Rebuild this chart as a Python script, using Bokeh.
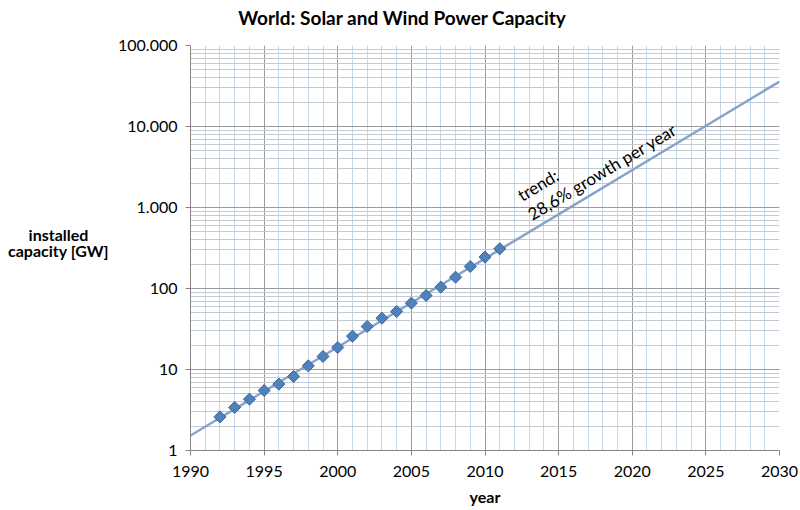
import math
from bokeh.plotting import figure
from bokeh.layouts import row, column
from bokeh.models import Range1d, FixedTicker, Label
from bokeh.core.properties import value
from bokeh.embed import file_html
from bokeh.resources import INLINE

# ---- data ----
years = list(range(1992, 2012))
capacity = [2.6, 3.4, 4.3, 5.5, 6.6, 8.2, 11.1, 14.5, 18.7, 25.8,
            34, 43, 52, 66, 82, 104, 138, 187, 244, 309]
trend_years = [1990, 2030]
trend_values = [1.53, 35900]

x_ticks = [1990, 1995, 2000, 2005, 2010, 2015, 2020, 2025, 2030]
x_minor = list(range(1990, 2031))
y_ticks = [1, 10, 100, 1000, 10000, 100000]
y_tick_labels = ["1", "10", "100", "1.000", "10.000", "100.000"]
y_minor = [m * 10 ** d for d in range(0, 5) for m in range(1, 10)]

title_text = "World: Solar and Wind Power Capacity"
x_label = "year"
y_label_lines = ["installed", "capacity [GW]"]
trend_lines = ["trend:", "28,6% growth per year"]

FONT = "Lato"
LEFT_W = 110
HEAD_H = 35
BODY_H = 510 - HEAD_H


def text_strip(w, h):
    f = figure(width=w, height=h, output_backend="svg", toolbar_location=None,
               x_range=Range1d(0, w), y_range=Range1d(h, 0),
               x_axis_location=None, y_axis_location=None,
               min_border=0, title=None)
    f.grid.visible = False
    f.outline_line_color = None
    return f


# ---- header strip holding the chart title ----
head = text_strip(800, HEAD_H)
head.text(x=[402], y=[17], text=[title_text], text_font=value(FONT),
          text_font_style="bold", text_font_size="19px", text_align="center",
          text_baseline="middle", text_color="#000000")

# ---- left strip holding the horizontal y-axis title ----
side = text_strip(LEFT_W, BODY_H)
side.text(x=[58, 58], y=[222, 241], text=y_label_lines,
          text_font=value(FONT), text_font_style="bold", text_font_size="16px",
          text_align="center", text_baseline="middle", text_color="#000000")

# ---- main chart ----
p = figure(width=800 - LEFT_W, height=BODY_H, output_backend="svg",
           toolbar_location=None, y_axis_type="log",
           x_range=Range1d(1990, 2030), y_range=Range1d(1, 100000),
           min_border_left=190 - LEFT_W, min_border_right=21,
           min_border_top=45 - HEAD_H, min_border_bottom=60, title=None)
p.outline_line_color = None
p.background_fill_color = "white"
p.border_fill_color = "white"

# ticks
p.xaxis.ticker = FixedTicker(ticks=x_ticks, minor_ticks=x_minor)
p.yaxis.ticker = FixedTicker(ticks=y_ticks, minor_ticks=y_minor)
p.yaxis.major_label_overrides = {t: l for t, l in zip(y_ticks, y_tick_labels)}
p.xaxis.major_label_overrides = {t: str(t) for t in x_ticks}

for ax in (p.xaxis, p.yaxis):
    ax.axis_line_color = "#868686"
    ax.axis_line_width = 1
    ax.major_tick_line_color = "#868686"
    ax.major_tick_out = 5
    ax.major_tick_in = 0
    ax.minor_tick_line_color = None
    ax.major_label_text_font = FONT
    ax.major_label_text_font_size = "16px"
    ax.major_label_text_color = "#000000"
    ax.axis_label_text_font = FONT
    ax.axis_label_text_font_style = "bold"
    ax.axis_label_text_font_size = "16px"
    ax.axis_label_text_color = "#000000"

p.xaxis.major_label_standoff = 10
p.yaxis.major_label_standoff = 8
p.xaxis.axis_label = x_label
p.xaxis.axis_label_standoff = 7

# grids
p.xgrid.grid_line_color = "#9a9a9a"
p.ygrid.grid_line_color = "#9a9a9a"
p.xgrid.minor_grid_line_color = "#c4d8ea"
p.ygrid.minor_grid_line_color = "#c2cbd4"

# trend line
p.line(trend_years, trend_values, line_color="#87a3cb", line_width=2.5)

# data points
p.scatter(years, capacity, marker="square", angle=math.pi / 4, size=8.5,
          fill_color="#4f81bd", line_color="#3a6598", line_width=1)

# trend annotation
ang = math.radians(31)
p.add_layout(Label(x=2012.3, y=1367, text=trend_lines[0], angle=ang, text_font=FONT,
                   text_font_size="17px", text_align="left", text_baseline="alphabetic",
                   text_color="#000000"))
p.add_layout(Label(x=2013.0, y=797, text=trend_lines[1], angle=ang, text_font=FONT,
                   text_font_size="17px", text_align="left", text_baseline="alphabetic",
                   text_color="#000000"))

layout = column(head, row(side, p, spacing=0), spacing=0)
open("out.html", "w").write(file_html(layout, INLINE))
